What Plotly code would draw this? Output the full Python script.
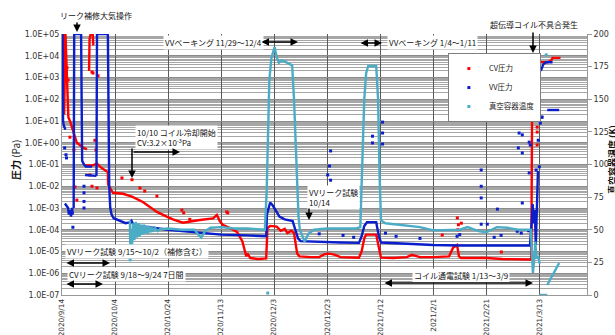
import plotly.graph_objects as go
from datetime import datetime, timedelta

START = datetime(2020, 9, 14)
END_DAY = 198

# ---------------- data (day offset from 2020/9/14, value) ----------------
cv_days = [0.6, 0.8, 1.3, 1.8, 2.4, 3.0, 4.1, 4.9, 5.6, 7.9, 9.4, None,
           10.2, 10.4, 10.8, 11.6, 11.8, None,
           8.7, 11.3, 13.2, 14.3, 16.2, 17.3, 17.4, 18.8, 19.2, 23.0, 26.4, 30.5, 33.0,
           35.8, 39.5, 41.8, 45.6, 48.2, 52.0, 57.0, 58.4, 59.5, 60.6, 64.0, 66.0, 68.0,
           69.5, 70.0, 71.0, 74.0, 77.0, 77.5, 78.5, 81.0, 82.5, 84.0, 85.0, 86.5, 87.5,
           88.7, 89.5, 94.0, 97.0, 99.0, 101.0, 103.0, 105.0, 112.0, 113.0, 114.0, 114.7,
           118.5, 119.5, 120.3, 125.0, 130.0, 132.0, 135.0, 140.0, 146.0, 147.5, 149.0,
           149.7, 150.5, 160.0, 164.0, 166.0, 175.0, 177.0, 177.4, 177.8, 178.3, 178.7,
           179.1, 179.6, 180.2, 183.0, 184.5, 185.0, 188.0]
cv_pa = [1e5, 20, 1e5, 2e3, 15, 10, 3.5, 1.6, 1.0, 0.6, 0.5, None,
         2e3, 6e4, 1e5, 1e5, 3e4, None,
         0.09, 0.09, 0.11, 0.08, 0.055, 0.045, 0.012, 6.7e-3, 5e-3, 4.5e-3, 3.3e-3, 1.9e-3, 1.2e-3,
         6.6e-4, 4e-4, 3e-4, 2.1e-4, 2.4e-4, 2.8e-4, 3.3e-4, 4.8e-4, 2.5e-4, 1.7e-4, 1.1e-4, 8e-5, 3e-5,
         6e-6, 8e-6, 5e-6, 4.5e-6, 4.8e-6, 1.2e-4, 1.5e-4, 1.4e-4, 9e-5, 1.1e-4, 7e-5, 9e-5, 7e-5,
         8e-6, 6e-6, 5.5e-6, 5.6e-6, 7.5e-6, 8e-6, 7e-6, 5.5e-6, 5.2e-6, 1e-5, 4e-5, 6e-5,
         6e-5, 1.5e-5, 5.2e-6, 5e-6, 5.5e-6, 7e-6, 5.5e-6, 5.5e-6, 6e-6, 1.5e-5, 2e-5,
         6e-6, 5e-6, 5e-6, 4.5e-6, 4.5e-6, 4.3e-6, 4.3e-6, 8e3, 3e3, 3e2, 1e2,
         4e2, 3e3, 5e3, 5e3, 6e3, 8e3, 8e3]

cv_dot_days = [1.9, 2.3, 3.0, 4.5, 4.9, 5.6, 10.5, 13.2, 11.3, 11.7, 13.6, 12.4, 12.8, 11.3,
               22.6, 26.4, 29.4, 31.2, 35.8, 45.2, 45.9, 48.2, 62.1, 62.5,
               143.4, 149.1, 149.5, 150.6, 149.3, 165.7, 178.8, 179.2, 179.2, 179.2, 179.2, 178.5, 177.3]
cv_dot_pa = [2.8e3, 7.6e2, 1.8, 0.47, 9.3e-3, 2.3e-3, 0.033, 8.3e-3, 1.8e3, 1.6e3, 1.2e3, 1.3, 0.47, 0.01,
             0.024, 0.02, 8.3e-3, 6e-3, 3.5e-3, 8e-4, 6e-4, 3e-4, 6.6e-4, 6e-4,
             5.7e-5, 3.5e-4, 1.7e-4, 2e-4, 1e-4, 9.5e-6, 93, 14, 5.2, 3.1, 0.8, 3.6e2, 2.2e3]

vv_days = [0.2, 0.4, 0.7, 1.3, None,
           1.1, 2.3, 2.6, 3.0, 3.4, 3.8, 4.1, None,
           4.4, 4.6, 7.2, 7.4, 7.6, 8.3, 9.0, 11.3, None,
           8.7, 13.0, None,
           13.0, 13.2, 17.3, 17.5, 17.7, 17.8, 18.2, 18.7, 19.5, 21.5, 24.0, 25.5, 26.2, 27.0,
           30.0, 35.0, 40.0, 50.0, 60.0, 70.0, 77.0, 77.3, 78.5, 79.5, 81.0, 82.0, 84.0, 87.0,
           88.0, 89.0, 90.0, 95.0, 100.0, 105.0, 112.0, 113.0, 114.0, 115.0, 118.5, 119.5,
           120.3, 125.0, 130.0, 140.0, 150.0, 160.0, 170.0, 176.5, 177.2, 177.5, 177.9,
           178.3, 178.7, 179.1, 179.5, None,
           180.6, 181.5, 182.5, 185.0, None,
           183.0, 187.5]
vv_pa = [1e5, 10, 6, 4, None,
         1.6e-3, 1e-3, 5e-4, 8e-4, 4e-4, 1e-3, 5e-4, None,
         1e-3, 1e5, 1e5, 1e3, 0.15, 0.1, 0.08, 0.08, None,
         0.033, 0.03, None,
         0.03, 1e5, 1e5, 1e2, 0.2, 0.01, 1e-3, 5e-4, 3.4e-4, 2.6e-4, 2e-4, 2.2e-4, 2.6e-4, 1.6e-4,
         1.4e-4, 1.2e-4, 1.0e-4, 7.5e-5, 6e-5, 5.5e-5, 5e-5, 5e-4, 1.8e-3, 1.3e-3, 6e-4, 4e-4, 3e-4, 2.5e-4,
         1e-4, 4e-5, 3e-5, 2.8e-5, 2.7e-5, 2.6e-5, 2.5e-5, 5e-5, 1.5e-4, 2.2e-4, 2.2e-4, 5e-5,
         2.6e-5, 2.4e-5, 2.2e-5, 2e-5, 1.9e-5, 1.9e-5, 1.9e-5, 1.9e-5, 3e-4, 1.5e-3, 2e-4,
         8e-4, 2e-5, 5e-3, 0.05, None,
         2e3, 4e3, 5e3, 5e3, None,
         32, 32]

vv_dot_days = [1.0, 1.5, 1.7, 4.1, 8.3, 8.3, 8.3, 8.3, 179.6, 180.4, 180.8,
               172.4, 173.6, 172.1, 173.6, 176.2, 176.6, 181.1, 117.1, 117.1, 120.9, 120.9, 120.9,
               101.3, 100.9, 100.2, 101.3, 158.1, 158.1, 158.1, 158.1, 160.4, 164.2, 173.6,
               176.2, 178.8, 180.0, 97.0, 106.0, 110.0, 122.0, 126.0, 135.0, 149.0, 150.0,
               163.0, 165.6, 171.7, 173.2, 176.0]
vv_dot_pa = [0.58, 0.28, 0.2, 1.3e-4, 0.01, 5e-3, 2e-3, 1e-3, 1.3, 8, 15,
             2.8, 2.3, 0.58, 0.34, 1.07, 0.79, 15, 2.0, 0.98, 8.9, 2.8, 0.87,
             0.42, 0.085, 0.033, 0.019, 0.056, 0.01, 2.9e-3, 1.8e-4, 1.8e-4, 8.9e-4, 1.7e-3,
             0.041, 0.056, 0.078, 6.5e-5, 5.5e-5, 4.5e-5, 7e-5, 5e-5, 4e-5, 5e-5, 6e-5,
             4.5e-5, 5.5e-5, 8.5e-5, 7e-5, 9e-5]

temp_days = [25.6, 25.8, 26.0, 26.4, 26.8, 27.3, 27.8, 28.3, 28.8, 29.3, 29.8, 30.3, 30.8,
             31.3, 31.8, 32.3, 32.8, 33.3, 33.8, 34.3, 35.0, 36.0, 37.0, 40.0, 45.0, 50.0,
             51.5, 52.5, 54.0, 56.0, 60.0, 65.0, 70.0, 76.5, 77.2, 77.7, 78.2, 79.0, 80.2,
             81.0, 81.8, 83.0, 85.0, 86.8, 87.5, 88.5, 89.2, 89.7, 91.5, 93.0, 95.0, 100.0,
             105.0, 111.0, 112.5, 113.3, 114.0, 114.7, 115.5, 118.5, 119.2, 119.8, 120.3,
             122.0, 130.0, 135.0, 140.0, 145.0, 150.0, 153.0, 157.0, 160.0, 164.0, 168.0,
             172.0, 176.8, 177.3, 177.6, 178.2, 178.5, 178.9, 179.5, 180.2, None,
             180.0, 183.0, None, 183.0, 187.5]
temp_k = [57, 30, 50, 38, 55, 42, 56, 44, 55, 45, 54, 46, 54,
          47, 53, 47, 53, 48, 52, 48.5, 51.5, 49, 50.5, 51, 50, 50,
          46, 44, 49, 51.5, 52, 51, 51, 50, 80, 130, 165, 182, 190,
          182, 178, 180, 178, 176, 150, 100, 60, 50, 41, 47, 50, 51,
          51, 51, 52, 100, 150, 170, 175.5, 175.5, 150, 90, 57,
          55, 53, 52, 49.5, 49.5, 50, 52, 49, 48, 52, 51.5,
          50, 50, 30, 17, 30, 41, 28, 30, 24, None,
          0, 0, None, 7.7, 24.5]

temp_dot_days = [25.7, 25.9, 77.6, 182.6]
temp_dot_k = [27, 33, 1.5, 184]

y_tick_vals = [1e-7, 1e-6, 1e-5, 1e-4, 1e-3, 1e-2, 1e-1, 1e0, 1e1, 1e2, 1e3, 1e4, 1e5]
y_tick_labels = ["1.0E-07", "1.0E-06", "1.0E-05", "1.0E-04", "1.0E-03", "1.0E-02", "1.0E-01",
                 "1.0E+00", "1.0E+01", "1.0E+02", "1.0E+03", "1.0E+04", "1.0E+05"]

RED = "#FF0000"
BLUE = "#0A1ECC"
CYAN = "#4BACC6"
JP = "Noto Sans CJK JP"


def to_dates(days):
    return [None if d is None else START + timedelta(days=d) for d in days]


fig = go.Figure()

# CV pressure
fig.add_trace(go.Scatter(x=to_dates(cv_days), y=cv_pa, mode="lines", line=dict(color=RED, width=2.4),
                         showlegend=False, connectgaps=False))
fig.add_trace(go.Scatter(x=to_dates(cv_dot_days), y=cv_dot_pa, mode="markers", name="CV圧力",
                         marker=dict(color=RED, size=3, symbol="square")))
# VV pressure
fig.add_trace(go.Scatter(x=to_dates(vv_days), y=vv_pa, mode="lines", line=dict(color=BLUE, width=2.4),
                         showlegend=False, connectgaps=False))
fig.add_trace(go.Scatter(x=to_dates(vv_dot_days), y=vv_dot_pa, mode="markers", name="VV圧力",
                         marker=dict(color=BLUE, size=3, symbol="square")))
# Temperature
fig.add_trace(go.Scatter(x=to_dates(temp_days), y=temp_k, mode="lines", yaxis="y2",
                         line=dict(color=CYAN, width=2.4), showlegend=False, connectgaps=False))
fig.add_trace(go.Scatter(x=to_dates(temp_dot_days), y=temp_dot_k, mode="markers", yaxis="y2",
                         name="真空容器温度",
                         marker=dict(color=CYAN, size=3, symbol="square")))

minor_vals = [m * 10 ** e for e in range(-7, 5) for m in range(2, 10)]

fig.update_layout(
    width=615, height=335,
    margin=dict(l=62, r=28, t=34, b=40, autoexpand=False),
    paper_bgcolor="white", plot_bgcolor="white",
    font=dict(family=JP, size=8, color="#333"),
    showlegend=True,
    legend=dict(x=0.735, y=0.927, xanchor="left", yanchor="top", bgcolor="white",
                bordercolor="#7f7f7f", borderwidth=1, font=dict(size=7.5, family=JP, color="#222"),
                itemsizing="trace", itemwidth=30, tracegroupgap=0),
    xaxis=dict(type="date", range=[START, START + timedelta(days=END_DAY)], automargin=False,
               tick0=START, dtick=20 * 86400000, tickformat="%Y/%-m/%-d", tickangle=-90,
               showgrid=True, gridcolor="#595959", gridwidth=1,
               showline=True, linecolor="#999", ticks="", zeroline=False,
               tickfont=dict(family="DejaVu Sans", size=7.3, color="#333")),
    yaxis=dict(type="log", range=[-7, 5], tickmode="array", tickvals=y_tick_vals, automargin=False,
               ticktext=y_tick_labels, showgrid=True, gridcolor="#8c8c8c", gridwidth=1,
               minor=dict(tickmode="array", tickvals=minor_vals, showgrid=True,
                          gridcolor="#a6a6a6", gridwidth=1),
               showline=True, linecolor="#999", ticks="", zeroline=False,
               tickfont=dict(family="DejaVu Sans", size=8, color="#333")),
    yaxis2=dict(overlaying="y", side="right", range=[0, 200], dtick=25, showgrid=False, automargin=False,
                showline=True, linecolor="#999", ticks="outside", ticklen=4, tickcolor="#999",
                zeroline=False, tickfont=dict(family="DejaVu Sans", size=8, color="#333")),
)


def xp(px):
    return (px - 62) / 525


def yp(py):
    return (295 - py) / 261


ann = []


def text_box(txt, x, y, xanchor="left", bg="white", align="left"):
    ann.append(dict(text=txt, x=xp(x), y=yp(y), xref="paper", yref="paper", showarrow=False,
                    xanchor=xanchor, yanchor="middle", bgcolor=bg, align=align,
                    font=dict(family=JP, size=8, color="#111"), borderpad=1))


def arrow(x, y, ax, ay, both=False):
    ann.append(dict(text="", x=xp(x), y=yp(y), xref="paper", yref="paper", showarrow=True,
                    ax=ax, ay=ay, arrowhead=2, startarrowhead=2, arrowsize=1, arrowwidth=1.5,
                    arrowcolor="black", arrowside="end+start" if both else "end"))


text_box("リーク補修大気操作", 95.5, 15, xanchor="center", bg="rgba(0,0,0,0)")
arrow(77, 32, 0, -11)
text_box("VVベーキング 11/29～12/4", 163, 43)
arrow(298, 42, -38, 0, both=True)
text_box("VVベーキング 1/4～1/11", 387, 43)
arrow(382, 43, -23, 0, both=True)
text_box("超伝導コイル不具合発生", 533.5, 25, xanchor="center", bg="rgba(0,0,0,0)")
arrow(533, 53, 0, -22)
text_box("10/10 コイル冷却開始<br>CV:3.2×10<sup>-3</sup>Pa", 135, 137.5)
arrow(132, 178, 0, -31)
arrow(180, 152, -48, 0)
text_box("VVリーク試験<br>10/14", 307, 197.5)
arrow(309, 220, 0, -13)
text_box("VVリーク試験 9/15～10/2（補修含む）", 65, 251)
arrow(110, 263, -45, 0, both=True)
text_box("CVリーク試験 9/18～9/24 7日間", 67, 274)
arrow(103, 284, -38, 0, both=True)
text_box("コイル通電試験 1/13～3/9", 412, 275)
arrow(533, 283, -150, 0, both=True)

ann.append(dict(text="<b>圧力</b> (Pa)", x=xp(15), y=yp(160), xref="paper", yref="paper",
                showarrow=False, textangle=-90, font=dict(family=JP, size=10, color="#111"),
                xanchor="center", yanchor="middle"))
ann.append(dict(text="<b>真空容器温度 (K)</b>", x=xp(612), y=yp(160), xref="paper", yref="paper",
                showarrow=False, textangle=-90, font=dict(family=JP, size=9, color="#111"),
                xanchor="center", yanchor="middle"))

fig.update_layout(annotations=ann)

fig.write_html("out.html", config={"displayModeBar": False},
               post_script="document.body.style.margin='0';document.body.style.overflow='hidden';")
